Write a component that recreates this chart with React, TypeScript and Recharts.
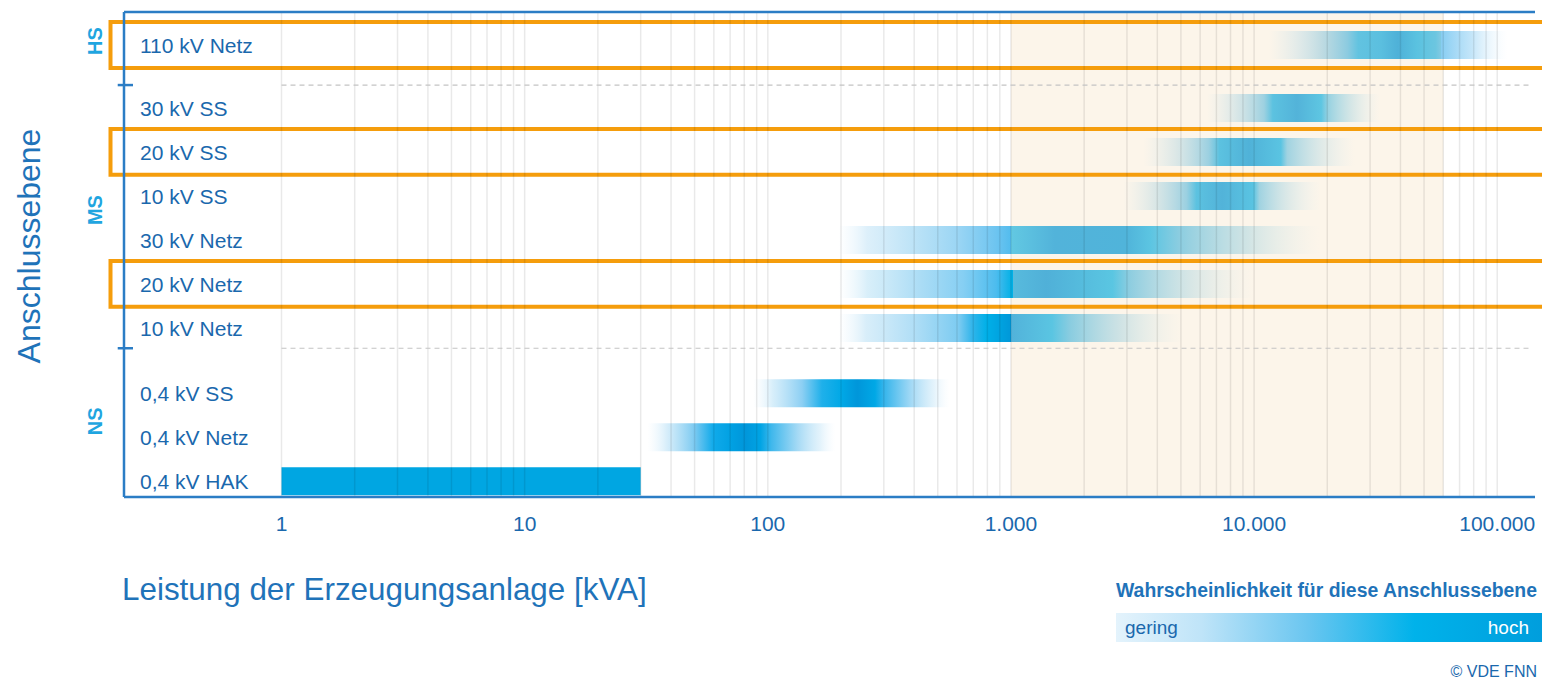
import React from 'react';
import { ComposedChart, Bar, Cell, XAxis, YAxis, ReferenceArea, ReferenceLine } from 'recharts';

// ---------- data ----------
const rowLabels = [
  '110 kV Netz',
  '30 kV SS',
  '20 kV SS',
  '10 kV SS',
  '30 kV Netz',
  '20 kV Netz',
  '10 kV Netz',
  '0,4 kV SS',
  '0,4 kV Netz',
  '0,4 kV HAK',
];
// row position on the vertical axis, in row units, with gaps between voltage groups
const rowPositions = [0, 1.43, 2.43, 3.43, 4.43, 5.43, 6.43, 7.91, 8.91, 9.91];
// power range of each connection level [kVA]
const rangeStart = [11500, 6400, 3500, 2900, 195, 195, 195, 87, 32, 1];
const rangeEnd = [110000, 33000, 26000, 18800, 18500, 10000, 5100, 560, 190, 30];

const groupLabels = ['HS', 'MS', 'NS'];
const groupLabelPositions = [-0.09, 3.75, 8.55];
const groupSeparators = [0.91, 6.89];
const highlightedRows = ['110 kV Netz', '20 kV SS', '20 kV Netz'];

const xTicks = [1, 10, 100, 1000, 10000, 100000];
const gridDecades = [1, 10, 100, 1000, 10000];
const gridMultipliers = [1, 2, 3, 4, 5, 6, 7, 8, 9];
const gridExtra = [100000];
const preferredRange = [1000, 60000];

const data = rowLabels.map((label, i) => ({
  label,
  pos: rowPositions[i],
  range: [rangeStart[i], rangeEnd[i]],
}));
const gridValues = [
  ...gridDecades.flatMap((d) => gridMultipliers.map((m) => m * d)),
  ...gridExtra,
];

// ---------- styles ----------
const FONT = '"Liberation Sans", Arial, Helvetica, sans-serif';
const TEXT_BLUE = '#1a68ad';
const AXIS_BLUE = '#2b7dc5';
const GROUP_BLUE = '#1fa5e0';
const ORANGE = '#f59d0c';

type Stop = [number, string, number];
const barGradients: Stop[][] = [
  // 110 kV Netz
  [[0, '#d8e8ec', 0], [0.12, '#c8e0e8', 0.5], [0.23, '#b0d5e0', 0.85], [0.33, '#8ccbe0', 1], [0.375, '#62c3e0', 1], [0.47, '#5bbfdf', 1], [0.54, '#4fb1d8', 1], [0.62, '#5ac2e0', 1], [0.7, '#6cc6e0', 1], [0.72, '#80c9e2', 1], [0.72, '#86cdf2', 1], [0.85, '#b9e1f8', 0.85], [1, '#e8f5fd', 0]],
  // 30 kV SS
  [[0, '#d6e7ec', 0], [0.18, '#bcdbe4', 0.6], [0.33, '#98cfe0', 0.95], [0.38, '#5cc2e0', 1], [0.52, '#53b3d9', 1], [0.66, '#5ec6e2', 1], [0.7, '#8ccee0', 0.9], [0.85, '#c0dee4', 0.55], [1, '#e0eef0', 0]],
  // 20 kV SS
  [[0, '#d6e7ec', 0], [0.16, '#bedbe3', 0.55], [0.31, '#96cee0', 0.95], [0.36, '#5cc2e0', 1], [0.5, '#50b2d8', 1], [0.65, '#5ac4e2', 1], [0.68, '#96cfe0', 0.9], [0.85, '#c6e0e6', 0.5], [1, '#e0eef0', 0]],
  // 10 kV SS
  [[0, '#d6e7ec', 0], [0.16, '#bedbe3', 0.55], [0.32, '#96cee0', 0.95], [0.37, '#5cc2e0', 1], [0.5, '#52b3d9', 1], [0.66, '#5ac4e2', 1], [0.69, '#96cfe0', 0.9], [0.85, '#c6e0e6', 0.5], [1, '#e0eef0', 0]],
  // 30 kV Netz
  [[0, '#eaf6fd', 0], [0.06, '#d9eefa', 0.9], [0.15, '#bfe4f7', 1], [0.25, '#9ad5f4', 1], [0.33, '#6cc4f0', 1], [0.36, '#52bcee', 1], [0.36, '#62c8e2', 1], [0.4, '#5bbfdf', 1], [0.45, '#52b3da', 1], [0.6, '#50b4da', 1], [0.65, '#5cc5e2', 1], [0.71, '#8ccde0', 1], [0.85, '#bcdce2', 0.7], [1, '#e2ecea', 0]],
  // 20 kV Netz
  [[0, '#eaf6fd', 0], [0.07, '#d4edf9', 0.9], [0.2, '#aadcf5', 1], [0.3, '#86cff3', 1], [0.38, '#4cbcee', 1], [0.419, '#00b0e6', 1], [0.419, '#58bbdd', 1], [0.5, '#50b0d8', 1], [0.66, '#5ac6e2', 1], [0.7, '#8dcde0', 1], [0.85, '#c0dde3', 0.6], [1, '#e2ecea', 0]],
  // 10 kV Netz
  [[0, '#eaf6fd', 0], [0.08, '#d4ecf9', 0.9], [0.22, '#b0def6', 1], [0.35, '#7ccbf1', 1], [0.39, '#2fb4ea', 1], [0.43, '#00b0e8', 1], [0.5, '#0098d9', 1], [0.5, '#52b2da', 1], [0.62, '#5ac5e2', 1], [0.67, '#88cce0', 1], [0.82, '#bcdbe2', 0.7], [1, '#e2ecea', 0]],
  // 0,4 kV SS
  [[0, '#e8f5fd', 0], [0.1, '#cdeaf9', 0.8], [0.25, '#8ccff3', 1], [0.35, '#1fb0ea', 1], [0.45, '#00a8e6', 1], [0.53, '#0096da', 1], [0.62, '#00a8e6', 1], [0.66, '#30b3eb', 1], [0.8, '#a0d8f5', 1], [0.92, '#d8eefa', 0.7], [1, '#eef8fe', 0]],
  // 0,4 kV Netz
  [[0, '#e8f5fd', 0], [0.1, '#cfeaf9', 0.8], [0.25, '#7ccaf1', 1], [0.35, '#10aaea', 1], [0.45, '#00a0e2', 1], [0.52, '#0096da', 1], [0.6, '#00a4e4', 1], [0.66, '#40b8ec', 1], [0.8, '#a6daf5', 1], [0.92, '#d8eefa', 0.7], [1, '#eef8fe', 0]],
  // 0,4 kV HAK
  [[0, '#00a6e2', 1], [1, '#00a6e2', 1]],
];

const formatKVA = (v: number) => String(v).replace(/\B(?=(\d{3})+(?!\d))/g, '.');

const findIndex = (list: number[], v: number) => list.findIndex((p) => Math.abs(p - v) < 1e-6);

// one tick renderer for both the row labels and the rotated voltage-group labels
const LevelTick = (props: any) => {
  const { x, y, payload } = props;
  const rowIdx = findIndex(rowPositions, payload.value);
  if (rowIdx >= 0) {
    return (
      <text x={x + 16} y={y} dy="0.36em" textAnchor="start" fill={TEXT_BLUE} fontSize={21} fontFamily={FONT}>
        {rowLabels[rowIdx]}
      </text>
    );
  }
  const grpIdx = findIndex(groupLabelPositions, payload.value);
  if (grpIdx < 0) return null;
  const cx = x - 29;
  return (
    <text
      x={cx}
      y={y}
      dy="0.36em"
      textAnchor="middle"
      transform={`rotate(-90, ${cx}, ${y})`}
      fill={GROUP_BLUE}
      fontSize={20}
      fontWeight="bold"
      fontFamily={FONT}
    >
      {groupLabels[grpIdx]}
    </text>
  );
};

const Y_DOMAIN: [number, number] = [-0.75, 10.27];
const X_DOMAIN: [number, number] = [0.225, 143000];
const yTicks = [...groupLabelPositions, ...rowPositions].sort((a, b) => a - b);

export default function App() {
  return (
    <div style={{ position: 'absolute', left: 0, top: 0, width: 1542, height: 681, background: '#fff', fontFamily: FONT }}>
      <ComposedChart
        width={1542}
        height={681}
        data={data}
        layout="vertical"
        margin={{ top: 12, right: 7, left: 123, bottom: 154 }}
      >
        <defs>
          {barGradients.map((stops, i) => (
            <linearGradient key={i} id={`rowGrad${i}`} x1="0" y1="0" x2="1" y2="0">
              {stops.map((s, j) => (
                <stop key={j} offset={s[0]} stopColor={s[1]} stopOpacity={s[2]} />
              ))}
            </linearGradient>
          ))}
        </defs>
        <XAxis
          type="number"
          scale="log"
          domain={X_DOMAIN}
          allowDataOverflow
          ticks={xTicks}
          tickFormatter={formatKVA}
          height={30}
          tickLine={false}
          tickSize={0}
          tickMargin={19}
          axisLine={{ stroke: AXIS_BLUE, strokeWidth: 2.5 }}
          tick={{ fill: TEXT_BLUE, fontSize: 21, fontFamily: FONT }}
          interval={0}
        />
        <YAxis
          type="number"
          dataKey="pos"
          domain={Y_DOMAIN}
          allowDataOverflow
          ticks={yTicks}
          interval={0}
          width={1}
          tickLine={false}
          tickSize={0}
          tickMargin={0}
          axisLine={{ stroke: AXIS_BLUE, strokeWidth: 2.5 }}
          tick={<LevelTick />}
        />
        <ReferenceArea
          x1={preferredRange[0]}
          x2={preferredRange[1]}
          y1={Y_DOMAIN[0]}
          y2={Y_DOMAIN[1]}
          fill="#f5dcb4"
          fillOpacity={0.28}
          stroke="none"
        />
        <Bar dataKey="range" barSize={28} isAnimationActive={false}>
          {data.map((d, i) => (
            <Cell key={d.label} fill={`url(#rowGrad${i})`} />
          ))}
        </Bar>
        {gridValues.map((v) => (
          <ReferenceLine key={`g${v}`} x={v} stroke="#000" strokeOpacity={0.085} strokeWidth={1.5} />
        ))}
        {groupSeparators.map((p) => (
          <ReferenceLine
            key={`sep${p}`}
            segment={[{ x: 1, y: p }, { x: 136000, y: p }]}
            stroke="#c4c4c4"
            strokeDasharray="5 4"
            strokeWidth={1.2}
          />
        ))}
        {groupSeparators.map((p) => (
          <ReferenceLine
            key={`tick${p}`}
            segment={[{ x: 0.212, y: p }, { x: 0.245, y: p }]}
            stroke={AXIS_BLUE}
            strokeWidth={2.5}
            ifOverflow="visible"
          />
        ))}
        <ReferenceLine y={Y_DOMAIN[0]} stroke={AXIS_BLUE} strokeWidth={2.5} />
        {highlightedRows.map((label) => {
          const p = rowPositions[rowLabels.indexOf(label)];
          return (
            <ReferenceArea
              key={`hl${label}`}
              x1={0.198}
              x2={1000000}
              y1={p - 0.52}
              y2={p + 0.52}
              fill="none"
              stroke={ORANGE}
              strokeWidth={4}
              ifOverflow="visible"
            />
          );
        })}
      </ComposedChart>

      <svg width={1542} height={681} style={{ position: 'absolute', left: 0, top: 0, pointerEvents: 'none' }}>
        <defs>
          <linearGradient id="legendGrad" x1="0" y1="0" x2="1" y2="0">
            <stop offset="0" stopColor="#e4f3fc" />
            <stop offset="0.2" stopColor="#bfe4f8" />
            <stop offset="0.45" stopColor="#6ac6f0" />
            <stop offset="0.7" stopColor="#00b2ea" />
            <stop offset="1" stopColor="#009edd" />
          </linearGradient>
        </defs>
        <text
          x={28}
          y={246}
          transform="rotate(-90, 28, 246)"
          textAnchor="middle"
          dy="0.36em"
          fill="#1f73b9"
          fontSize={32}
          fontFamily={FONT}
        >
          Anschlussebene
        </text>
        <text x={122} y={600} fill="#1f73b9" fontSize={31.4} fontFamily={FONT}>
          Leistung der Erzeugungsanlage [kVA]
        </text>
        <text x={1537} y={597} textAnchor="end" fill="#1f73b9" fontSize={19.4} fontWeight="bold" fontFamily={FONT}>
          Wahrscheinlichkeit für diese Anschlussebene
        </text>
        <rect x={1116} y={613} width={426} height={29} fill="url(#legendGrad)" />
        <text x={1125} y={634} fill={TEXT_BLUE} fontSize={19} fontFamily={FONT}>
          gering
        </text>
        <text x={1529} y={634} textAnchor="end" fill="#ffffff" fontSize={19} fontFamily={FONT}>
          hoch
        </text>
        <text x={1537} y={677} textAnchor="end" fill={TEXT_BLUE} fontSize={16} fontFamily={FONT}>
          © VDE FNN
        </text>
      </svg>
    </div>
  );
}
